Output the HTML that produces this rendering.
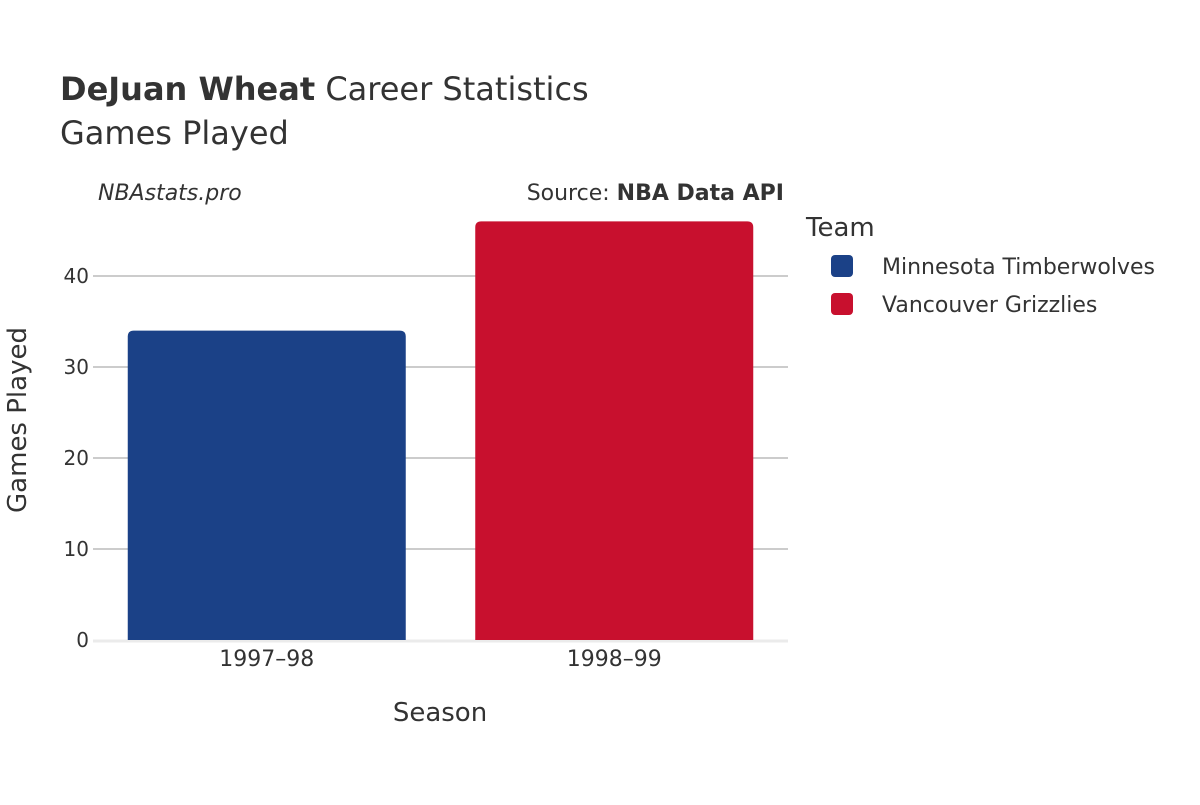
<!DOCTYPE html>
<html><head><meta charset="utf-8"><style>
body{margin:0;background:#fff;}
svg text{font-family:"DejaVu Sans","Liberation Sans",sans-serif;fill:#333;}
</style></head><body>
<svg width="1200" height="800" id="chart">
<text x="60" y="100" font-size="32"><tspan font-weight="bold">DeJuan Wheat</tspan> Career Statistics</text>
<text x="60" y="144" font-size="32">Games Played</text>
<text x="98" y="200" font-size="22" font-style="italic">NBAstats.pro</text>
<text x="784" y="200" font-size="22" text-anchor="end">Source: <tspan font-weight="bold">NBA Data API</tspan></text>
<g id="grid"></g>
<g id="bars"></g>
<g id="ticks"></g>
<text x="440" y="721" font-size="26" text-anchor="middle">Season</text>
<text transform="translate(26,420) rotate(-90)" font-size="26" text-anchor="middle">Games Played</text>
<text x="806" y="236" font-size="26">Team</text>
<g id="legend"></g>
</svg>
<script>
const categories=["1997–98","1998–99"];
const teams=["Minnesota Timberwolves","Vancouver Grizzlies"];
const values=[34,46];
const colors=["#1b4187","#c8102e"];
const yTicks=[0,10,20,30,40];
const NS="http://www.w3.org/2000/svg";
const x0=93,x1=788,yZero=640,pxPer=9.1;
const y=v=>yZero-v*pxPer;
const band=(x1-x0)/categories.length;
function mk(tag,attrs,parent,txt){const e=document.createElementNS(NS,tag);for(const k in attrs)e.setAttribute(k,attrs[k]);if(txt!==undefined)e.textContent=txt;document.getElementById(parent).appendChild(e);return e;}
yTicks.forEach(t=>{
  if(t>0){const l=mk('line',{x1:x0,x2:x1,y1:y(t),y2:y(t),stroke:'#999','stroke-width':1},'grid');
  
  }
  const tx=mk('text',{x:x0-4,y:y(t)+7,'font-size':20,'text-anchor':'end'},'ticks',t);
  
  
});
const z=mk('line',{x1:x0,x2:x1,y1:yZero+1,y2:yZero+1,stroke:'#ebebeb','stroke-width':3},'grid');


categories.forEach((c,i)=>{
  const bw=band*0.8,bx=x0+band*i+band*0.1,top=y(values[i]),r=6;
  const d=`M${bx},${yZero} V${top+r} Q${bx},${top} ${bx+r},${top} H${bx+bw-r} Q${bx+bw},${top} ${bx+bw},${top+r} V${yZero} Z`;
  const p=mk('path',{d:d,fill:colors[i]},'bars');
  
  
  const tx=mk('text',{x:x0+band*(i+0.5),y:666,'font-size':22,'text-anchor':'middle'},'ticks',c);
  
  
});
teams.forEach((t,i)=>{
  const yy=266+i*38;
  const r=mk('rect',{x:831,y:yy-11,width:22,height:22,rx:4,fill:colors[i]},'legend');
  
  
  const tx=mk('text',{x:882,y:yy+8,'font-size':22},'legend',t);
  
  
});
</script>
</body></html>
